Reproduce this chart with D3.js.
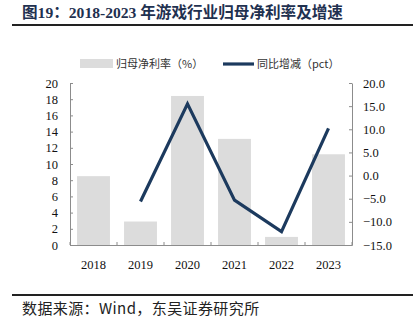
<!DOCTYPE html>
<html><head><meta charset="utf-8">
<script src="https://cdn.jsdelivr.net/npm/d3@7"></script>
<style>body{margin:0;background:#fff}svg{display:block}</style>
</head><body>
<svg id="c" width="418" height="324"></svg>
<script>
const categories = ["2018","2019","2020","2021","2022","2023"];
const netMargin = [8.5, 2.9, 18.4, 13.1, 1.0, 11.2];
const yoyChange = [null, -5.6, 15.5, -5.3, -12.1, 10.2];
const leftTicks = [0,2,4,6,8,10,12,14,16,18,20];
const rightTicks = [-15,-10,-5,0,5,10,15,20];
const titleText = "图19：2018-2023 年游戏行业归母净利率及增速";
const sourceText = "数据来源：Wind，东吴证券研究所";
const legendLabels = ["归母净利率（%）","同比增减（pct）"];

const svg = d3.select("#c");
const serif = "'Liberation Serif','Noto Sans CJK SC',serif";
const cjk = "'Noto Sans CJK SC','Liberation Serif',sans-serif";
const axisCol = "#8c8c8c", barCol = "#dcdcdc", lineCol = "#1c3a5e";

const x = d3.scaleBand().domain(categories).range([70, 352]).paddingInner(0.3).paddingOuter(0.15);
const xb = d3.scaleBand().domain(categories).range([70, 352]);
const yL = d3.scaleLinear().domain([0,20]).range([245, 83]);
const yR = d3.scaleLinear().domain([-15,20]).range([245, 83]);

// title
svg.append("text").attr("x",22).attr("y",18).attr("font-family",serif)
  .attr("font-weight","bold").attr("font-size",15.6).attr("fill","#1f3150").text(titleText);
svg.append("line").attr("x1",12).attr("x2",413).attr("y1",25).attr("y2",25)
  .attr("stroke","#222").attr("stroke-width",2);

// bars
svg.selectAll("rect.bar").data(categories).enter().append("rect")
  .attr("x", d=>x(d)).attr("width", x.bandwidth())
  .attr("y", (d,i)=>yL(netMargin[i])).attr("height",(d,i)=>yL(0)-yL(netMargin[i]))
  .attr("fill", barCol);

// line
const lineData = categories.map((c,i)=>({c, v:yoyChange[i]})).filter(d=>d.v!==null);
svg.append("path").datum(lineData)
  .attr("d", d3.line().x(d=>xb(d.c)+xb.bandwidth()/2).y(d=>yR(d.v)))
  .attr("fill","none").attr("stroke",lineCol).attr("stroke-width",3.2).attr("stroke-linejoin","miter");

// axes
const axL = svg.append("g").attr("transform","translate(70,0)")
  .call(d3.axisLeft(yL).tickValues(leftTicks).tickSizeInner(-3).tickSizeOuter(0).tickPadding(12).tickFormat(d3.format("d")));
const axR = svg.append("g").attr("transform","translate(352,0)")
  .call(d3.axisRight(yR).tickValues(rightTicks).tickSizeInner(-3).tickSizeOuter(0).tickPadding(11).tickFormat(d3.format(".1f")));
const axX = svg.append("g").attr("transform","translate(0,245)")
  .call(d3.axisBottom(xb).tickSize(0).tickPadding(15));
// boundary ticks on x axis
svg.selectAll("line.xt").data(d3.range(categories.length+1)).enter().append("line")
  .attr("x1",i=>70+i*xb.bandwidth()).attr("x2",i=>70+i*xb.bandwidth())
  .attr("y1",245).attr("y2",242).attr("stroke",axisCol);
[axL,axR,axX].forEach(a=>{
  a.attr("font-family",serif);
  a.selectAll("path,line").attr("stroke",axisCol);
  a.selectAll("text").attr("font-family",serif).attr("font-size",12.5).attr("fill","#111");
});

// legend
svg.append("rect").attr("x",80).attr("y",59).attr("width",33).attr("height",9).attr("fill",barCol);
svg.append("text").attr("x",116).attr("y",68).attr("font-family",cjk).attr("font-size",11)
  .attr("fill","#333").text(legendLabels[0]);
svg.append("line").attr("x1",223).attr("x2",254).attr("y1",64).attr("y2",64)
  .attr("stroke",lineCol).attr("stroke-width",3.2);
svg.append("text").attr("x",257).attr("y",68).attr("font-family",cjk).attr("font-size",11)
  .attr("fill","#333").text(legendLabels[1]);

// footer
svg.append("line").attr("x1",12).attr("x2",413).attr("y1",295).attr("y2",295)
  .attr("stroke","#222").attr("stroke-width",2);
svg.append("text").attr("x",22).attr("y",314).attr("font-family",cjk).attr("font-size",15)
  .attr("letter-spacing",0.4).attr("fill","#222").text(sourceText);
</script>
</body></html>
